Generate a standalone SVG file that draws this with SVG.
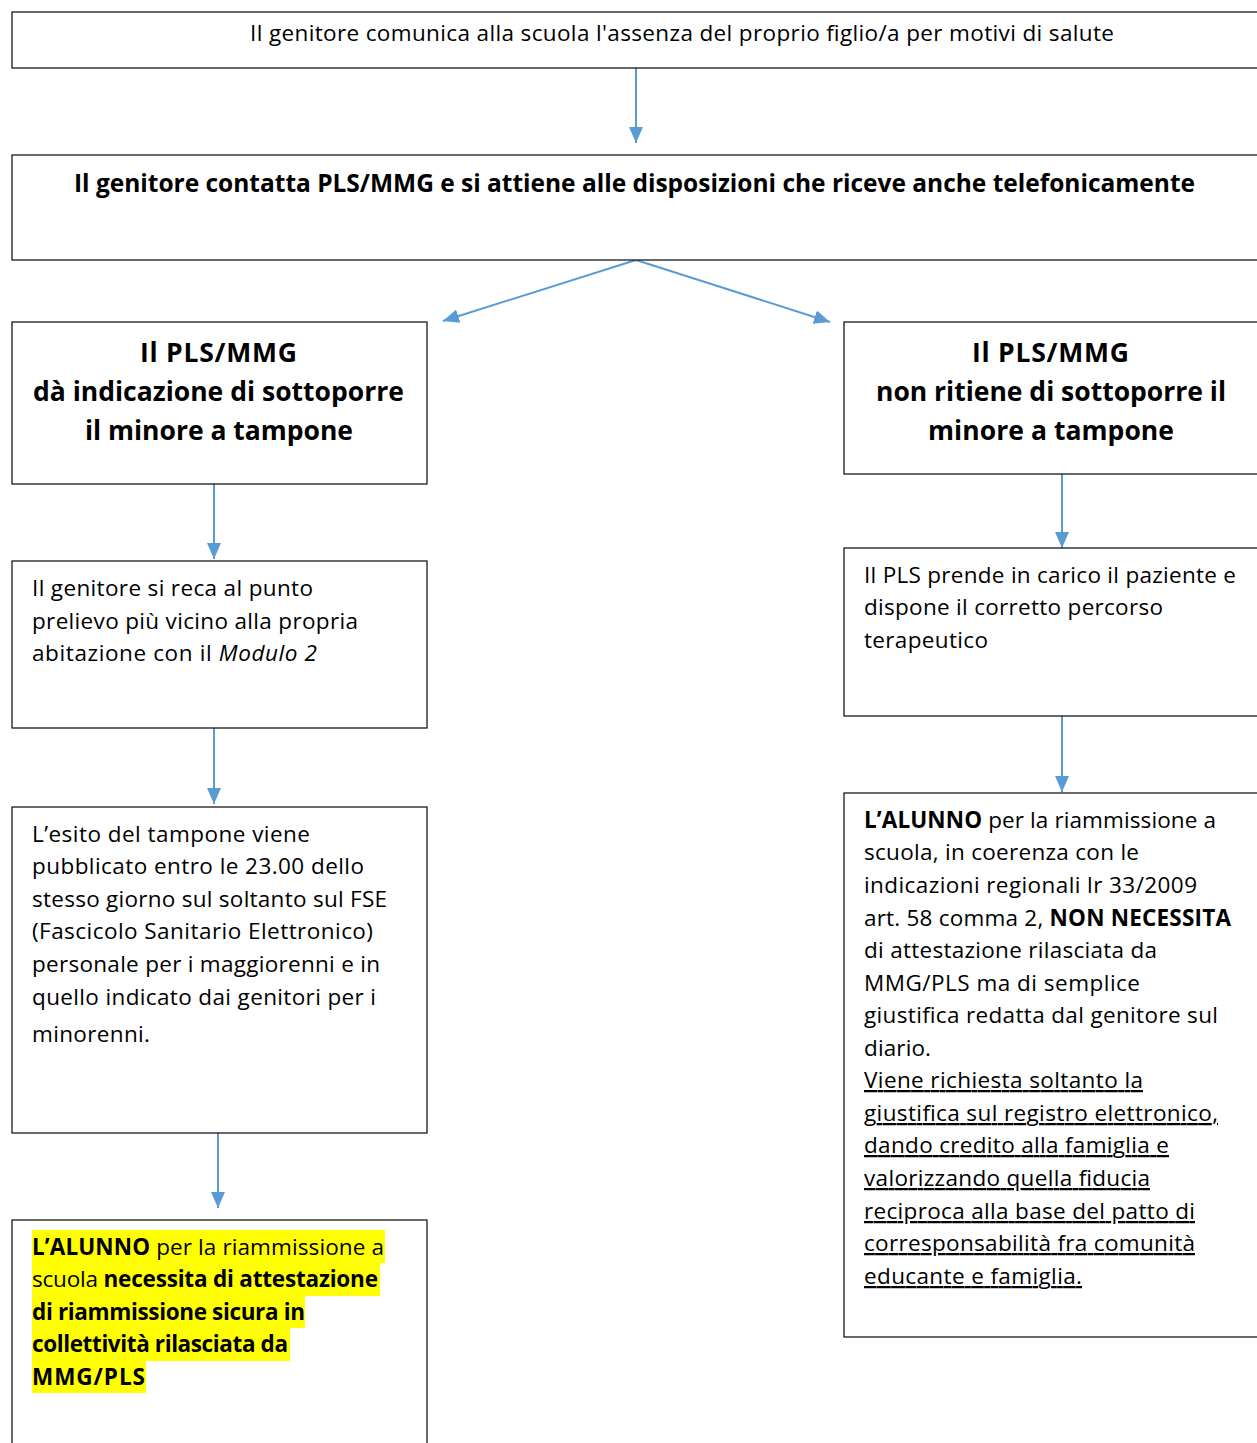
<svg xmlns="http://www.w3.org/2000/svg" width="1257" height="1443" viewBox="0 0 1257 1443">
<defs>
<style>
.box{fill:#fff;stroke:#1a1a1a;stroke-width:1.3}
.t{font-family:"Open Sans","Noto Sans","Liberation Sans",sans-serif;font-size:22.5px;fill:#000}
.h{font-family:"Open Sans","Noto Sans","Liberation Sans",sans-serif;font-size:26.5px;font-weight:bold;fill:#000}
.h2{font-family:"Open Sans","Noto Sans","Liberation Sans",sans-serif;font-size:24.5px;font-weight:bold;fill:#000}
.b{font-weight:bold}
.u{text-decoration:underline}
.c{stroke:#5B9BD5;stroke-width:2;fill:none}
.hl{fill:#FFFF00}
</style>
<marker id="arr" viewBox="0 0 16 14" refX="16" refY="7" markerWidth="16" markerHeight="14" markerUnits="userSpaceOnUse" orient="auto">
<path d="M0,0 L16,7 L0,14 z" fill="#5B9BD5"/>
</marker>
</defs>

<g id="connectors">
<line class="c" x1="636" y1="68" x2="636" y2="143" marker-end="url(#arr)"/>
<line class="c" x1="636" y1="260" x2="443" y2="321" marker-end="url(#arr)"/>
<line class="c" x1="636" y1="260" x2="830" y2="322" marker-end="url(#arr)"/>
<line class="c" x1="214" y1="484" x2="214" y2="559" marker-end="url(#arr)"/>
<line class="c" x1="214" y1="728" x2="214" y2="804" marker-end="url(#arr)"/>
<line class="c" x1="218" y1="1133" x2="218" y2="1208" marker-end="url(#arr)"/>
<line class="c" x1="1062" y1="474" x2="1062" y2="548" marker-end="url(#arr)"/>
<line class="c" x1="1062" y1="716" x2="1062" y2="792" marker-end="url(#arr)"/>
</g>

<g id="n1">
<rect class="box" x="12" y="12" width="1255" height="56"/>
<text class="t" x="250" y="41" textLength="864">Il genitore comunica alla scuola l'assenza del proprio figlio/a per motivi di salute</text>
</g>

<g id="n2">
<rect class="box" x="12" y="155" width="1255" height="105"/>
<text class="h2" x="74" y="192" textLength="1121">Il genitore contatta PLS/MMG e si attiene alle disposizioni che riceve anche telefonicamente</text>
</g>

<g id="n3">
<rect class="box" x="12" y="322" width="415" height="162"/>
<text class="h" x="140" y="362" textLength="157">Il PLS/MMG</text>
<text class="h" x="33" y="401" textLength="371">dà indicazione di sottoporre</text>
<text class="h" x="85" y="440" textLength="268">il minore a tampone</text>
</g>

<g id="n4">
<rect class="box" x="844" y="322" width="423" height="152"/>
<text class="h" x="972" y="362" textLength="157">Il PLS/MMG</text>
<text class="h" x="876" y="401" textLength="350">non ritiene di sottoporre il</text>
<text class="h" x="928" y="440" textLength="246">minore a tampone</text>
</g>

<g id="n5">
<rect class="box" x="12" y="561" width="415" height="167"/>
<text class="t" x="32" y="596" textLength="281">Il genitore si reca al punto</text>
<text class="t" x="32" y="629" textLength="326">prelievo più vicino alla propria</text>
<text class="t" x="32" y="661" textLength="285">abitazione con il <tspan font-style="italic">Modulo 2</tspan></text>
</g>

<g id="n6">
<rect class="box" x="12" y="807" width="415" height="326"/>
<text class="t" x="32" y="842" textLength="278">L’esito del tampone viene</text>
<text class="t" x="32" y="874" textLength="332">pubblicato entro le 23.00 dello</text>
<text class="t" x="32" y="907" textLength="355">stesso giorno sul soltanto sul FSE</text>
<text class="t" x="32" y="939" textLength="341">(Fascicolo Sanitario Elettronico)</text>
<text class="t" x="32" y="972" textLength="348">personale per i maggiorenni e in</text>
<text class="t" x="32" y="1005" textLength="344">quello indicato dai genitori per i</text>
<text class="t" x="32" y="1042" textLength="118">minorenni.</text>
</g>

<g id="n7">
<rect class="box" x="12" y="1220" width="415" height="240"/>
<rect class="hl" x="32" y="1230" width="353" height="33"/>
<rect class="hl" x="32" y="1263" width="348" height="33"/>
<rect class="hl" x="32" y="1296" width="273" height="32"/>
<rect class="hl" x="32" y="1328" width="258" height="33"/>
<rect class="hl" x="32" y="1361" width="114" height="32"/>
<text class="t" x="32" y="1255" textLength="352"><tspan class="b">L’ALUNNO</tspan> per la riammissione a</text>
<text class="t" x="32" y="1287" textLength="346">scuola <tspan class="b">necessita di attestazione</tspan></text>
<text class="t b" x="32" y="1320" textLength="273">di riammissione sicura in</text>
<text class="t b" x="32" y="1352" textLength="256">collettività rilasciata da</text>
<text class="t b" x="32" y="1385" textLength="113">MMG/PLS</text>
</g>

<g id="n8">
<rect class="box" x="844" y="548" width="423" height="168"/>
<text class="t" x="864" y="583" textLength="372">Il PLS prende in carico il paziente e</text>
<text class="t" x="864" y="615" textLength="299">dispone il corretto percorso</text>
<text class="t" x="864" y="648" textLength="124">terapeutico</text>
</g>

<g id="n9">
<rect class="box" x="844" y="793" width="423" height="544"/>
<text class="t" x="864" y="828" textLength="352"><tspan class="b">L’ALUNNO</tspan> per la riammissione a</text>
<text class="t" x="864" y="860" textLength="275">scuola, in coerenza con le</text>
<text class="t" x="864" y="893" textLength="333">indicazioni regionali lr 33/2009</text>
<text class="t" x="864" y="926" textLength="367">art. 58 comma 2, <tspan class="b">NON NECESSITA</tspan></text>
<text class="t" x="864" y="958" textLength="293">di attestazione rilasciata da</text>
<text class="t" x="864" y="991" textLength="276">MMG/PLS ma di semplice</text>
<text class="t" x="864" y="1023" textLength="354">giustifica redatta dal genitore sul</text>
<text class="t" x="864" y="1056" textLength="67">diario.</text>
<text class="t u" x="864" y="1088" textLength="279">Viene richiesta soltanto la</text>
<text class="t u" x="864" y="1121" textLength="354">giustifica sul registro elettronico,</text>
<text class="t u" x="864" y="1153" textLength="305">dando credito alla famiglia e</text>
<text class="t u" x="864" y="1186" textLength="286">valorizzando quella fiducia</text>
<text class="t u" x="864" y="1219" textLength="331">reciproca alla base del patto di</text>
<text class="t u" x="864" y="1251" textLength="331">corresponsabilità fra comunità</text>
<text class="t u" x="864" y="1284" textLength="218">educante e famiglia.</text>
</g>
</svg>
